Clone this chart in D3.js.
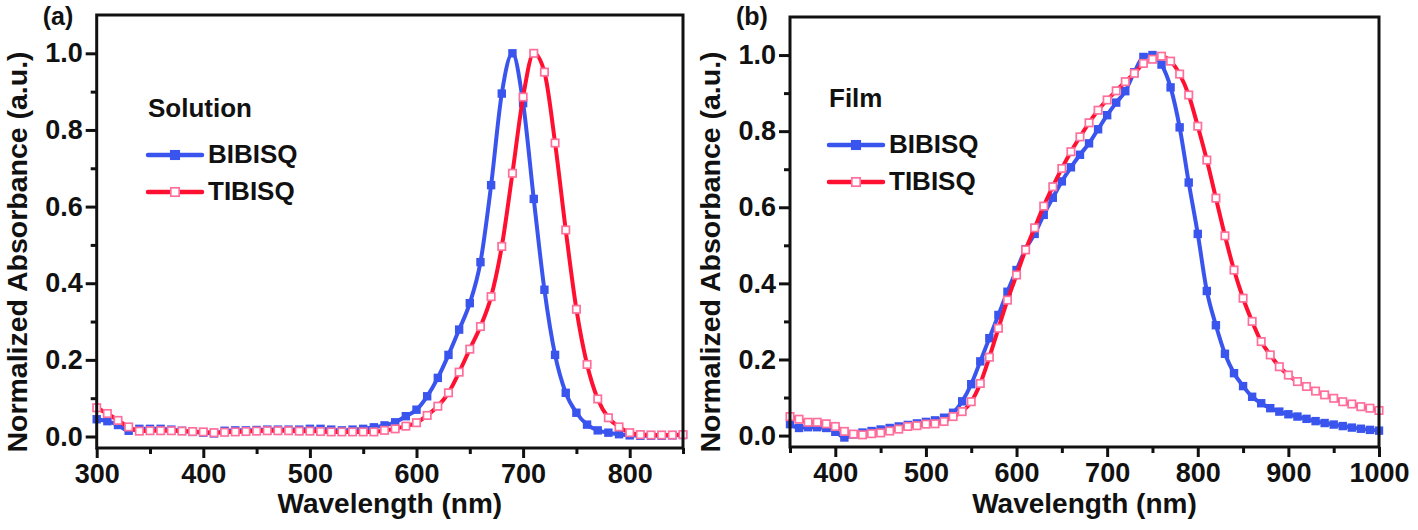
<!DOCTYPE html>
<html><head><meta charset="utf-8">
<script src="https://cdn.jsdelivr.net/npm/d3@7"></script>
<style>
body{margin:0;background:#fff;}
text{font-family:"Liberation Sans",Arial,sans-serif;font-weight:bold;fill:#111;}
</style>
</head><body>
<svg id="c" width="1418" height="530"></svg>
<script>
// ---------- DATA ----------
const wlA = [300,310,320,330,340,350,360,370,380,390,400,410,420,430,440,450,460,470,480,490,500,510,520,530,540,550,560,570,580,590,600,610,620,630,640,650,660,670,680,690,700,710,720,730,740,750,760,770,780,790,800,810,820,830,840,850];
const solBIBISQ = [0.045,0.040,0.030,0.015,0.020,0.020,0.020,0.018,0.015,0.012,0.010,0.008,0.015,0.016,0.016,0.017,0.018,0.018,0.018,0.018,0.020,0.020,0.018,0.016,0.018,0.020,0.024,0.029,0.037,0.053,0.070,0.105,0.153,0.213,0.279,0.348,0.455,0.656,0.895,1.000,0.870,0.620,0.383,0.213,0.114,0.062,0.031,0.016,0.010,0.006,0.003,0.002,0.002,0.002,0.003,0.004];
const solTIBISQ = [0.075,0.060,0.042,0.025,0.014,0.015,0.015,0.015,0.014,0.013,0.012,0.010,0.011,0.012,0.013,0.014,0.015,0.015,0.015,0.014,0.014,0.013,0.012,0.012,0.012,0.012,0.012,0.016,0.020,0.027,0.036,0.055,0.079,0.114,0.168,0.228,0.287,0.365,0.496,0.687,0.886,1.000,0.951,0.766,0.539,0.332,0.188,0.098,0.049,0.025,0.010,0.005,0.004,0.004,0.004,0.005];

const wlB = [350,360,370,380,390,400,410,420,430,440,450,460,470,480,490,500,510,520,530,540,550,560,570,580,590,600,610,620,630,640,650,660,670,680,690,700,710,720,730,740,750,760,770,780,790,800,810,820,830,840,850,860,870,880,890,900,910,920,930,940,950,960,970,980,990,1000];
const filmBIBISQ = [0.030,0.020,0.022,0.022,0.020,0.010,-0.005,0.003,0.008,0.012,0.016,0.020,0.024,0.028,0.032,0.036,0.040,0.047,0.060,0.090,0.135,0.195,0.256,0.317,0.378,0.435,0.490,0.530,0.580,0.625,0.668,0.705,0.738,0.768,0.805,0.842,0.875,0.905,0.955,0.995,1.000,0.975,0.915,0.810,0.665,0.530,0.380,0.290,0.215,0.164,0.130,0.102,0.085,0.072,0.063,0.056,0.050,0.044,0.038,0.033,0.029,0.025,0.021,0.018,0.015,0.013];
const filmTIBISQ = [0.050,0.043,0.035,0.035,0.031,0.024,0.011,0.004,0.002,0.005,0.007,0.012,0.017,0.024,0.026,0.030,0.031,0.037,0.050,0.063,0.089,0.137,0.206,0.282,0.356,0.422,0.488,0.546,0.603,0.654,0.702,0.746,0.785,0.822,0.855,0.882,0.906,0.930,0.952,0.978,0.989,0.997,0.984,0.950,0.895,0.813,0.724,0.624,0.525,0.435,0.361,0.300,0.247,0.212,0.181,0.159,0.142,0.129,0.117,0.107,0.098,0.089,0.083,0.076,0.072,0.066];

const xTicksA = [300,400,500,600,700,800];
const xMinorA = [350,450,550,650,750,850];
const xTicksB = [400,500,600,700,800,900,1000];
const xMinorB = [350,450,550,650,750,850,950];
const yTicks = [0.0,0.2,0.4,0.6,0.8,1.0];
const yMinor = [0.1,0.3,0.5,0.7,0.9];
const seriesNames = ["BIBISQ","TIBISQ"];

// ---------- STYLE ----------
const BLUE = "#3a55ee", RED = "#ff1030", PINK = "#ff6f9c";
const svg = d3.select("#c");

function panel(o){
  const x = d3.scaleLinear().domain(o.xDomain).range([o.left,o.right]);
  const y = d3.scaleLinear().domain([-0.03,1.1]).range([o.bottom,o.top]);
  const g = svg.append("g");

  function styleAxis(sel){
    sel.select(".domain").remove();
    sel.selectAll("line").attr("stroke","#111").attr("stroke-width",3);
    sel.selectAll("text").attr("font-size",27).attr("font-weight","bold")
      .attr("font-family",'"Liberation Sans",Arial,sans-serif').attr("fill","#111");
  }
  g.append("g").attr("transform",`translate(0,${o.bottom})`)
    .call(d3.axisBottom(x).tickValues(o.xTicks).tickSize(10).tickPadding(6).tickFormat(d3.format("d")))
    .call(styleAxis);
  g.append("g").attr("transform",`translate(0,${o.bottom})`)
    .call(d3.axisBottom(x).tickValues(o.xMinor).tickSize(6).tickFormat(""))
    .call(styleAxis);
  g.append("g").attr("transform",`translate(${o.left},0)`)
    .call(d3.axisLeft(y).tickValues(yTicks).tickSize(11).tickPadding(3).tickFormat(d3.format(".1f")))
    .call(styleAxis);
  g.append("g").attr("transform",`translate(${o.left},0)`)
    .call(d3.axisLeft(y).tickValues(yMinor).tickSize(6).tickFormat(""))
    .call(styleAxis);

  const clipId = "clip"+o.id;
  svg.append("clipPath").attr("id",clipId).append("rect")
    .attr("x",o.left).attr("y",o.top).attr("width",o.right-o.left).attr("height",o.bottom-o.top);

  const line = d3.line().x(d=>x(d[0])).y(d=>y(d[1])).curve(d3.curveMonotoneX);
  const b = o.wl.map((w,i)=>[w,o.blue[i]]);
  const r = o.wl.map((w,i)=>[w,o.red[i]]);

  const plot = g.append("g");
  plot.append("path").datum(b).attr("d",line).attr("fill","none").attr("stroke",BLUE)
    .attr("stroke-width",4).attr("clip-path",`url(#${clipId})`);
  plot.selectAll(".bm").data(b).enter().append("rect").attr("class","bm")
    .attr("x",d=>x(d[0])-4.2).attr("y",d=>y(d[1])-4.2).attr("width",8.4).attr("height",8.4)
    .attr("fill",BLUE);
  plot.append("path").datum(r).attr("d",line).attr("fill","none").attr("stroke",RED)
    .attr("stroke-width",4).attr("clip-path",`url(#${clipId})`);
  plot.selectAll(".rm").data(r).enter().append("rect").attr("class","rm")
    .attr("x",d=>x(d[0])-3.7).attr("y",d=>y(d[1])-3.7).attr("width",7.4).attr("height",7.4)
    .attr("fill","#fff").attr("stroke",PINK).attr("stroke-width",1.7);

  // frame
  g.append("rect").attr("x",o.left).attr("y",o.top).attr("width",o.right-o.left).attr("height",o.bottom-o.top)
    .attr("fill","none").attr("stroke","#111").attr("stroke-width",3);

  // titles
  g.append("text").attr("x",(o.left+o.right)/2).attr("y",513).attr("text-anchor","middle")
    .attr("font-size",28).text("Wavelength (nm)");
  g.append("text").attr("transform",`translate(${o.left-70},252) rotate(-90)`).attr("text-anchor","middle")
    .attr("font-size",28.5).text("Normalized Absorbance (a.u.)");
  g.append("text").attr("x",o.left-54).attr("y",25).attr("font-size",25).text(o.tag);

  // legend
  const L = o.legend;
  g.append("text").attr("x",L.x).attr("y",L.y).attr("font-size",26).text(o.condition);
  const items = [{c:BLUE,f:BLUE,s:BLUE,n:seriesNames[0],dy:38},{c:RED,f:"#fff",s:PINK,n:seriesNames[1],dy:75}];
  items.forEach(it=>{
    const ly = L.y+it.dy;
    g.append("line").attr("x1",L.x).attr("x2",L.x+54).attr("y1",ly).attr("y2",ly)
      .attr("stroke",it.c).attr("stroke-width",4.5).attr("stroke-linecap","round");
    g.append("rect").attr("x",L.x+27-4.2).attr("y",ly-4.2).attr("width",8.4).attr("height",8.4)
      .attr("fill",it.f).attr("stroke",it.s).attr("stroke-width",1.7);
    g.append("text").attr("x",L.x+60).attr("y",ly+8).attr("font-size",26).text(it.n);
  });
}

panel({id:"a",tag:"(a)",condition:"Solution",left:96.7,right:683,top:15,bottom:448,
  xDomain:[300,850],xTicks:xTicksA,xMinor:xMinorA,wl:wlA,blue:solBIBISQ,red:solTIBISQ,
  legend:{x:148,y:117}});
panel({id:"b",tag:"(b)",condition:"Film",left:790,right:1379,top:17,bottom:447,
  xDomain:[350,1000],xTicks:xTicksB,xMinor:xMinorB,wl:wlB,blue:filmBIBISQ,red:filmTIBISQ,
  legend:{x:829,y:107}});
</script>
</body></html>
